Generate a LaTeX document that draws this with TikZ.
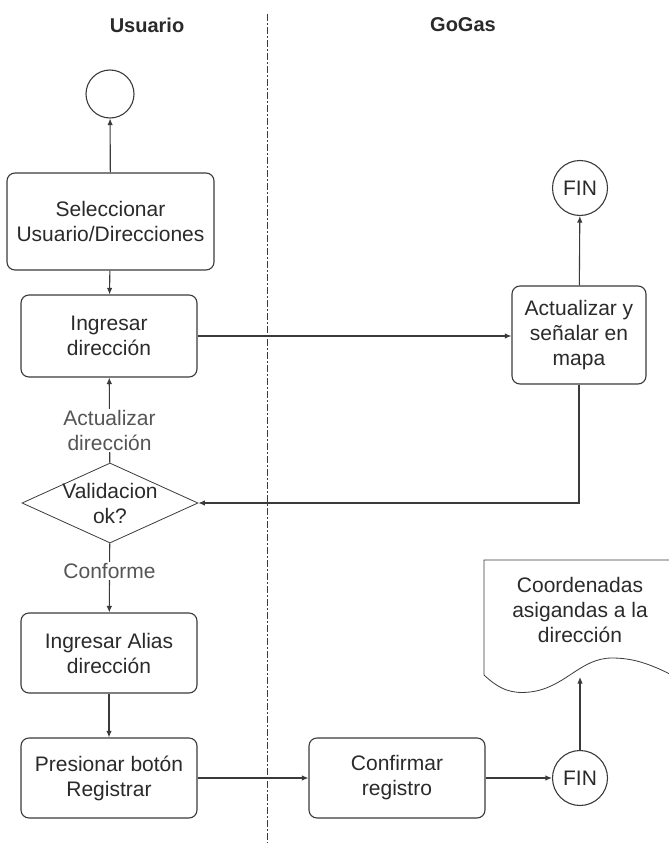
\documentclass[tikz,border=0pt]{standalone}
\usepackage{fontspec}
\setmainfont{Liberation Sans}
\usetikzlibrary{shapes.geometric,arrows.meta}
\definecolor{ink}{HTML}{3A3A3A}
\definecolor{txt}{HTML}{2A2A2A}
\definecolor{lbl}{HTML}{555555}
\tikzset{
  every node/.style={font=\fontsize{21}{25}\selectfont, text=txt, align=center},
  stepbox/.style={draw=ink, line width=1.1pt, rounded corners=8pt, fill=white, inner sep=2pt},
  endpt/.style={draw=ink, line width=1.1pt, circle, inner sep=0pt, minimum size=#1},
  decision/.style={draw=ink, line width=0.8pt, diamond, inner sep=0pt, minimum width=176pt, minimum height=80pt},
  flow/.style={draw=ink, line width=1.1pt, -{Latex[length=6.5pt,width=5.5pt]}},
  edgelabel/.style={text=lbl, fill=white, inner sep=1pt},
  lane/.style={font=\fontsize{20}{25}\selectfont\bfseries, text=txt},
}
\begin{document}
\begin{tikzpicture}[x=1pt,y=-1pt]
  \clip (0,0) rectangle (669,843);
  \useasboundingbox (0,0) rectangle (669,843);

  % lane headings and separator
  \node[lane] (hUser) at (147,25) {Usuario};
  \node[lane] (hGo) at (463,25) {GoGas};
  \coordinate (sepTop) at (267,14);
  \coordinate (sepBot) at (267,843);
  \draw[ink, line width=1pt, dash pattern=on 7pt off 2pt on 2pt off 2pt] (sepTop) -- (sepBot);

  % user lane
  \node[endpt=48pt] (start) at (110,94) {};
  \node[stepbox, minimum width=207pt, minimum height=97pt] (sel) at (110.5,221.5) {Seleccionar\\Usuario/Direcciones};
  \node[stepbox, minimum width=176pt, minimum height=82pt] (ing) at (109,336) {Ingresar\\dirección};
  \node[decision, label={[align=center, text=txt]center:Validacion\\ok?}] (val) at (110,503) {};
  \node[stepbox, minimum width=176pt, minimum height=80pt] (alias) at (109,653) {Ingresar Alias\\dirección};
  \node[stepbox, minimum width=176pt, minimum height=80pt] (pres) at (109,778) {Presionar botón\\Registrar};

  % GoGas lane
  \node[endpt=55pt] (fin1) at (580,188) {FIN};
  \node[stepbox, minimum width=134pt, minimum height=98pt] (act) at (579,335) {Actualizar y\\señalar en\\mapa};
  \node[stepbox, minimum width=176pt, minimum height=80pt] (conf) at (397,778) {Confirmar\\registro};
  \node[endpt=55pt] (fin2) at (580,778) {FIN};

  % document output
  \draw[ink, line width=0.8pt, fill=white]
    (700,560) -- (484,560) -- (484,675)
    .. controls (500,690) and (512,694) .. (530,692)
    .. controls (565,688) and (580,658) .. (612,658)
    .. controls (640,658) and (660,668) .. (700,690);
  \node (doc) at (580,610) {Coordenadas\\asigandas a la\\dirección};
  \coordinate (docBot) at (580,677);

  % connectors
  \draw[flow] (sel) -- (start);
  \draw[flow] (sel) -- (ing);
  \draw[flow] (ing) -- (ing -| act.west);
  \draw[flow] (act) -- (fin1);
  \draw[flow] (act.south) |- (val.east);
  \draw[flow] (val) -- node[edgelabel, pos=0.38] {Actualizar\\dirección} (ing);
  \draw[flow] (val) -- node[edgelabel, pos=0.4] {Conforme} (alias);
  \draw[flow] (alias) -- (pres);
  \draw[flow] (pres) -- (conf);
  \draw[flow] (conf) -- (fin2);
  \draw[flow] (fin2) -- (docBot);
\end{tikzpicture}
\end{document}
